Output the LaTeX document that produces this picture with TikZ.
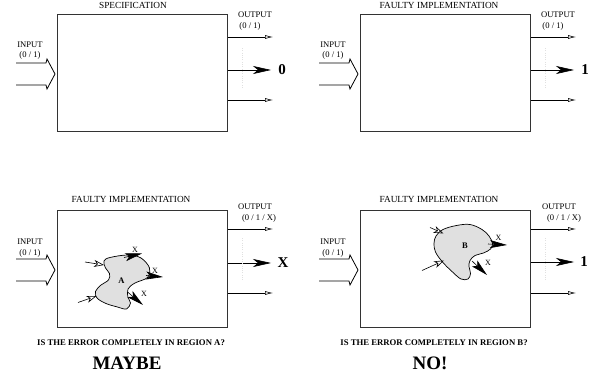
\documentclass[tikz,border=0pt]{standalone}
\usepackage{fontspec}
\setmainfont{Liberation Serif}
\usetikzlibrary{arrows.meta}
\tikzset{
  box/.style={draw=black!80, line width=1pt, minimum width=170pt, minimum height=117pt, anchor=north west, inner sep=0},
  lbl/.style={font=\fontsize{8.6}{9}\selectfont, inner sep=0},
  ttl/.style={font=\fontsize{9.3}{10}\selectfont, inner sep=0},
  qst/.style={font=\bfseries\fontsize{8.7}{9}\selectfont, inner sep=0},
  ans/.style={font=\bfseries\fontsize{19}{20}\selectfont, inner sep=0},
  val/.style={font=\bfseries\fontsize{15}{16}\selectfont, inner sep=0},
  outarrow/.style={line width=0.6pt, -{Latex[open,length=8pt,width=4pt]}},
  bigarrow/.style={line width=0.6pt, -{Stealth[length=18pt,width=8pt,inset=5pt]}},
  inarrow/.style={line width=0.8pt, line join=miter},
  faint/.style={draw=black!12, dotted, line width=0.3pt},
  blob/.style={draw=black, fill=black!12, line width=0.7pt},
  blobtxt/.style={font=\bfseries\fontsize{8.5}{9}\selectfont, inner sep=0},
  xtxt/.style={font=\fontsize{8}{9}\selectfont, inner sep=0},
  errarrow/.style={line width=0.6pt, -{Stealth[length=17pt,width=8pt,inset=4pt]}},
  entarrow/.style={line width=0.6pt, -{Stealth[open,length=10pt,width=7pt,inset=3pt]}},
}
\begin{document}
\begin{tikzpicture}[x=1pt,y=-1pt]
\useasboundingbox (0,0) rectangle (602,379);

% ---------- Panel 1: specification ----------
\begin{scope}[shift={(57,14)}]
  \node[box] (p1box) at (0,0) {};
  \node[ttl] (p1title) at (76,-9) {SPECIFICATION};
  \node[lbl] (p1in) at (-27,31) {INPUT};
  \node[lbl] (p1inv) at (-27,41) {(0 / 1)};
  \draw[inarrow] (-41,49) -- (-11,49) -- (-10,45) -- (-2,60) -- (-10,75) -- (-11,71) -- (-41,71);
  \node[lbl] (p1out) at (198,1) {OUTPUT};
  \node[lbl] (p1outv) at (193,12) {(0 / 1)};
  \coordinate (p1a1) at (216,23);
  \coordinate (p1a2) at (214,56);
  \coordinate (p1a3) at (216,86);
  \draw[outarrow] (p1box.east |- p1a1) -- (p1a1);
  \draw[bigarrow] (p1box.east |- p1a2) -- (p1a2);
  \draw[outarrow] (p1box.east |- p1a3) -- (p1a3);
  \node[val] (p1val) at (225,56) {0};
  \draw[faint] (185,34) -- (185,74);
\end{scope}

% ---------- Panel 2: faulty implementation ----------
\begin{scope}[shift={(360,14)}]
  \node[box] (p2box) at (0,0) {};
  \node[ttl] (p2title) at (79,-9) {FAULTY IMPLEMENTATION};
  \node[lbl] (p2in) at (-27,31) {INPUT};
  \node[lbl] (p2inv) at (-27,41) {(0 / 1)};
  \draw[inarrow] (-41,49) -- (-11,49) -- (-10,45) -- (-2,60) -- (-10,75) -- (-11,71) -- (-41,71);
  \node[lbl] (p2out) at (198,1) {OUTPUT};
  \node[lbl] (p2outv) at (193,12) {(0 / 1)};
  \coordinate (p2a1) at (216,23);
  \coordinate (p2a2) at (214,56);
  \coordinate (p2a3) at (216,86);
  \draw[outarrow] (p2box.east |- p2a1) -- (p2a1);
  \draw[bigarrow] (p2box.east |- p2a2) -- (p2a2);
  \draw[outarrow] (p2box.east |- p2a3) -- (p2a3);
  \node[val] (p2val) at (225,56) {1};
  \draw[faint] (185,34) -- (185,74);
\end{scope}

% ---------- Panel 3: faulty, region A ----------
\begin{scope}[shift={(57,210)}]
  \node[box] (p3box) at (0,0) {};
  \node[ttl] (p3title) at (74,-11) {FAULTY IMPLEMENTATION};
  \node[lbl] (p3in) at (-27,32) {INPUT};
  \node[lbl] (p3inv) at (-27,43) {(0 / 1)};
  \draw[inarrow] (-41,49) -- (-11,49) -- (-10,45) -- (-2,60) -- (-10,75) -- (-11,71) -- (-41,71);
  \node[lbl] (p3out) at (198,-3) {OUTPUT};
  \node[lbl] (p3outv) at (202,8) {(0 / 1 / X)};
  \coordinate (p3a1) at (216,19);
  \coordinate (p3a2) at (214,53);
  \coordinate (p3a3) at (216,83);
  \draw[outarrow] (p3box.east |- p3a1) -- (p3a1);
  \draw[bigarrow] (p3box.east |- p3a2) -- (p3a2);
  \draw[outarrow] (p3box.east |- p3a3) -- (p3a3);
  \node[val] (p3val) at (226,53) {X};
  \draw[faint] (185,28) -- (185,70);
  \node[qst] (p3q) at (74,133) {IS THE ERROR COMPLETELY IN REGION A?};
  \node[ans] (p3ans) at (70,153) {MAYBE};
\end{scope}

% blob A
\draw[blob] plot[smooth cycle, tension=0.6] coordinates {
  (104,261) (110,257.5) (128,255) (141,258) (149.5,268) (147.5,277.5) (135,283)
  (128,289) (128,297.5) (130.5,303) (126.5,309) (117.5,307) (106,303.5) (97,298)
  (95.5,291.5) (101,285) (108.5,280) (109.5,273.5) (105.5,268)};
\node[blobtxt] (blobA) at (121.5,281) {A};
\coordinate (aE1s) at (124,257.5); \coordinate (aE1e) at (142,253.5);
\coordinate (aE2s) at (146,275.5); \coordinate (aE2e) at (163,277);
\coordinate (aE3s) at (127.5,292); \coordinate (aE3e) at (143,305);
\draw[errarrow] (aE1s) -- (aE1e);
\draw[errarrow] (aE2s) -- (aE2e);
\draw[errarrow] (aE3s) -- (aE3e);
\node[xtxt] (aX1) at (135,250) {X};
\node[xtxt] (aX2) at (155,270.5) {X};
\node[xtxt] (aX3) at (144,294) {X};
\coordinate (aI1s) at (85,262); \coordinate (aI1e) at (104,265);
\coordinate (aI2s) at (78,302.5); \coordinate (aI2e) at (96.5,296);
\draw[entarrow] (aI1s) -- (aI1e);
\draw[entarrow] (aI2s) -- (aI2e);

% ---------- Panel 4: faulty, region B ----------
\begin{scope}[shift={(360,210)}]
  \node[box] (p4box) at (0,0) {};
  \node[ttl] (p4title) at (79,-11) {FAULTY IMPLEMENTATION};
  \node[lbl] (p4in) at (-27,32) {INPUT};
  \node[lbl] (p4inv) at (-27,43) {(0 / 1)};
  \draw[inarrow] (-41,49) -- (-11,49) -- (-10,45) -- (-2,60) -- (-10,75) -- (-11,71) -- (-41,71);
  \node[lbl] (p4out) at (199,-3) {OUTPUT};
  \node[lbl] (p4outv) at (204,8) {(0 / 1 / X)};
  \coordinate (p4a1) at (216,19);
  \coordinate (p4a2) at (214,52);
  \coordinate (p4a3) at (216,83);
  \draw[outarrow] (p4box.east |- p4a1) -- (p4a1);
  \draw[bigarrow] (p4box.east |- p4a2) -- (p4a2);
  \draw[outarrow] (p4box.east |- p4a3) -- (p4a3);
  \node[val] (p4val) at (224,52) {1};
  \draw[faint] (185,28) -- (185,70);
  \node[qst] (p4q) at (74,133) {IS THE ERROR COMPLETELY IN REGION B?};
  \node[ans] (p4ans) at (70,153) {NO!};
\end{scope}

% blob B
\draw[blob] plot[smooth cycle, tension=0.6] coordinates {
  (436,236) (443,229.5) (456.5,225.5) (470,224.5) (482,229.5) (489,236)
  (492.5,243.5) (490.5,249) (483.5,253) (475,255.5) (470,260.5) (469,266.5)
  (470.5,273.5) (468,279) (461,279) (452.5,272) (442.5,262) (435.5,252)
  (434,243.5)};
\node[blobtxt] (blobB) at (465,246) {B};
\coordinate (bE1s) at (488,244); \coordinate (bE1e) at (507,245);
\coordinate (bE2s) at (472,261); \coordinate (bE2e) at (487,275);
\draw[errarrow] (bE1s) -- (bE1e);
\draw[errarrow] (bE2s) -- (bE2e);
\node[xtxt] (bX1) at (498.5,237.5) {X};
\node[xtxt] (bX2) at (488,263) {X};
\coordinate (bI1s) at (430,227.5); \coordinate (bI1e) at (443.5,233.5);
\coordinate (bI2s) at (422,270.5); \coordinate (bI2e) at (444,260.5);
\draw[entarrow] (bI1s) -- (bI1e);
\draw[entarrow] (bI2s) -- (bI2e);
\end{tikzpicture}
\end{document}
